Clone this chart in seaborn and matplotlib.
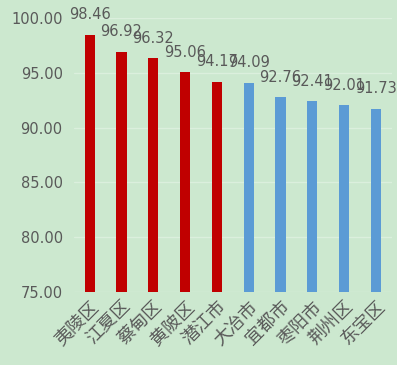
import numpy as np
import pandas as pd
import matplotlib
matplotlib.use('Agg')
import matplotlib.pyplot as plt
import seaborn as sns

# data
districts = ['夷陵区', '江夏区', '蔡甸区', '黄陂区', '潜江市', '大冶市', '宜都市', '枣阳市', '荆州区', '东宝区']
scores = [98.46, 96.92, 96.32, 95.06, 94.17, 94.09, 92.76, 92.41, 92.01, 91.73]
groups = ['top'] * 5 + ['rest'] * 5
y_ticks = [75, 80, 85, 90, 95, 100]

df = pd.DataFrame({'district': districts, 'score': scores, 'group': groups})

bg = '#cce8cf'
text_col = '#595959'

sns.set_style('white')
plt.rcParams['font.family'] = ['DejaVu Sans', 'Noto Sans CJK SC']

fig = plt.figure(figsize=(3.97, 3.65), dpi=100, facecolor=bg)
ax = fig.add_axes([0.186, 0.2, 0.801, 0.751])
ax.set_facecolor(bg)

sns.barplot(data=df, x='district', y='score', hue='group',
            palette={'top': '#c00000', 'rest': '#5b9bd5'},
            dodge=False, width=0.32, saturation=1, linewidth=0,
            legend=False, ax=ax, zorder=3)

ax.set_ylim(75, 100)
ax.set_yticks(y_ticks)
ax.set_yticklabels([f'{v:.2f}' for v in y_ticks], color=text_col, fontsize=10.5)
ax.yaxis.grid(True, color='#dbefdd', linewidth=1, zorder=0)
ax.set_axisbelow(True)
for s in ax.spines.values():
    s.set_visible(False)
ax.tick_params(length=0, pad=8)
ax.set_xlabel('')
ax.set_ylabel('')

ax.set_xticks(range(len(districts)))
ax.set_xticklabels(districts, rotation=45, ha='right', rotation_mode='anchor',
                   family='Noto Sans CJK SC', fontsize=13, color=text_col)
ax.tick_params(axis='x', pad=4)

for i, v in enumerate(scores):
    ax.annotate(f'{v:.2f}', (i, v), xytext=(0, 9), textcoords='offset points',
                ha='center', va='bottom', fontsize=10.5, color=text_col,
                annotation_clip=False)

fig.savefig('out.png', dpi=100, facecolor=bg)
